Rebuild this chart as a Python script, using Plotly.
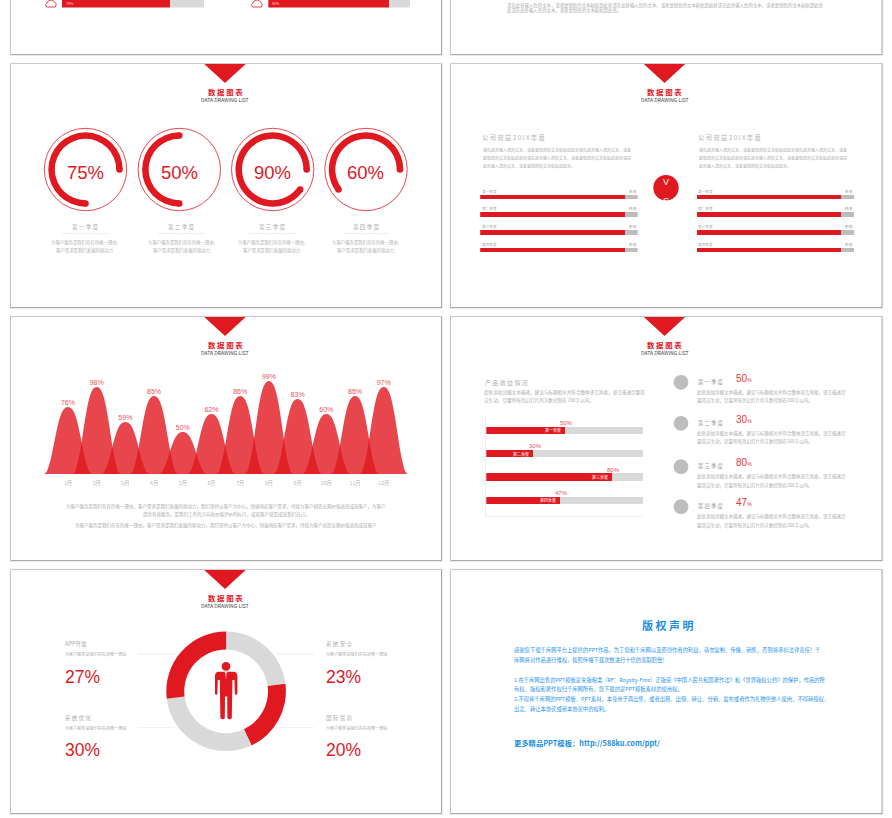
import plotly.graph_objects as go
import math

RED = "#e0181f"
GREY = "#d9d9d9"
MID = "#bdbdbd"
TXT = "#aaaaaa"
FONT = "Noto Sans CJK SC"
NUM = "Liberation Sans"

# ---------- data ----------
top_values = [76, 85]
top_labels = ["76%", "80%"]
gauge_values = [75, 50, 90, 60]
gauge_labels = ["75%", "50%", "90%", "60%"]
gauge_names = ["第 一 季 度", "第 二 季 度", "第 三 季 度", "第 四 季 度"]
vs_categories = ["第一季度", "第二季度", "第三季度", "第四季度"]
vs_left = [92, 92, 92, 92]
vs_right = [92, 92, 92, 92]
months = ["1月", "2月", "3月", "4月", "5月", "6月", "7月", "8月", "9月", "10月", "11月", "12月"]
month_labels = [76, 98, 59, 85, 50, 62, 86, 99, 83, 60, 85, 97]
peak_heights = [67, 87, 52, 78, 42, 60, 78, 93, 75, 60, 78, 87]
bell_offsets = [-1, -.9, -.8, -.7, -.6, -.5, -.4, -.3, -.2, -.1, 0, .1, .2, .3, .4, .5, .6, .7, .8, .9, 1]
bell_profile = [0, .03, .12, .25, .42, .6, .76, .88, .955, .99, 1, .99, .955, .88, .76, .6, .42, .25, .12, .03, 0]
income_cats = ["第一季度", "第二季度", "第三季度", "第四季度"]
income_values = [50, 30, 80, 47]
donut_names = ["系统安全", "国际贸易", "系统优化", "APP开发"]
donut_values = [23, 20, 30, 27]

L1 = "为客户服务是我们存在的唯一理由,"
L2 = "客户需求是我们发展的原动力"
LOREM1 = "请在此处输入您的文本，或者复制您的文本粘贴到此处请在此处输入您的文本，或者"
LOREM2 = "复制您的文本粘贴到此处请在此处输入您的文本，或者复制您的文本粘贴到此处请在"
LOREM3 = "此处输入您的文本，或者复制您的文本粘贴到此处。"
DESC1 = "此处添加详细文本描述，建议与标题相关并符合整体语言风格，语言描述尽量简"
DESC2 = "洁生动，尽量将每页幻灯片的字数控制在 200字以内。"
DESC3 = "此处添加详细文本描述，建议与标题相关并符合整体语言风格，语言描述尽"
DESC4 = "量简洁生动，尽量将每页幻灯片的字数控制在200字以内。"
MT1 = "为客户服务是我们存在的唯一理由，客户需求是我们发展的原动力，我们坚持以客户为中心，快速响应客户需求，持续为客户创造长期价值进而成就客户，为客户"
MT2 = "提供有效服务，是我们工作的方向和价值评价的标尺，成就客户就是成就我们自己。"
MT3 = "为客户服务是我们存在的唯一理由，客户需求是我们发展的原动力，我们坚持以客户为中心，快速响应客户需求，持续为客户创造长期价值进而成就客户"
TOP1 = "请在此处输入您的文本，或者复制您的文本粘贴到此处请在此处输入您的文本，或者复制您的文本粘贴到此处请在此处输入您的文本，或者复制您的文本粘贴到此处"
TOP2 = "此请在此处输入您的文本，或者复制您的文本粘贴到此处。"
CR = ["感谢您下载千库网平台上提供的PPT作品，为了您和千库网以及原创作者的利益，请勿复制、传播、销售，否则将承担法律责任！千",
      "库网将对作品进行维权，按照传播下载次数进行十倍的索取赔偿！",
      "1.在千库网出售的PPT模板是免版税类（RF：Royalty-Free）正版受《中国人民共和国著作法》和《世界版权公约》的保护，作品的所",
      "有权、版权和著作权归千库网所有，您下载的是PPT模板素材的使用权。",
      "2.不得将千库网的PPT模板、PPT素材，本身用于再出售，或者出租、出借、转让、分销、发布或者作为礼物供他人使用，不得转授权、",
      "出卖、转让本协议或者本协议中的权利。"]

# ---------- helpers ----------
fig = go.Figure()
shapes, notes = [], []

def T(x, y, s, size, color=TXT, anchor="center", bold=False, family=FONT):
    notes.append(dict(x=x, y=y, xref="x", yref="y", text=f"<b>{s}</b>" if bold else s, showarrow=False,
                      xanchor=anchor, yanchor="middle", align=anchor, borderpad=0,
                      font=dict(size=size, color=color, family=family)))

def rect(x0, y0, x1, y1, color, layer="below"):
    shapes.append(dict(type="rect", xref="x", yref="y", x0=x0, y0=y0, x1=x1, y1=y1,
                       fillcolor=color, line_width=0, layer=layer))

def circle(cx, cy, r, fill=None, line=None, lw=1, layer="above"):
    shapes.append(dict(type="circle", xref="x", yref="y", x0=cx - r, x1=cx + r, y0=cy - r, y1=cy + r,
                       fillcolor=fill or "rgba(0,0,0,0)", line=dict(color=line or "rgba(0,0,0,0)", width=lw if line else 0), layer=layer))

def path(d, fill=None, line=None, lw=1, layer="above"):
    shapes.append(dict(type="path", xref="x", yref="y", path=d, fillcolor=fill or "rgba(0,0,0,0)",
                       line=dict(color=line or "rgba(0,0,0,0)", width=lw if line else 0), layer=layer))

def hline(x0, x1, y, color="#e8e8e8"):
    shapes.append(dict(type="line", xref="x", yref="y", x0=x0, x1=x1, y0=y, y1=y, line=dict(color=color, width=0.7), layer="below"))

W, H = 892, 818
def dx(a, b): return [a / W, b / W]
def dy(top, bottom): return [1 - bottom / H, 1 - top / H]

# ---------- cards ----------
for (x0, x1) in [(11, 441), (451, 881.5)]:
    for (y0, y1) in [(-20, 54), (64, 307), (317, 560), (570, 813)]:
        rect(x0 - 1.2, y0 - 1.2, x1 + 1.8, y1 + 2, "#ececec")
        rect(x0 - .6, y0 - .6, x1 + 1, y1 + 1, "#a9a9a9")
        rect(x0, y0, x1, y1, "#ffffff")

# headers
for cx in (225, 664.5):
    for top in (64, 317, 570):
        if not (cx > 400 and top == 570):
            path(f"M{cx-20.7} {top} L{cx+20.7} {top} L{cx} {top+19} Z", fill=RED)
            T(cx, top + 27, "数 据 图 表", 7.4, RED, bold=True)
            T(cx, top + 35, "DATA DRAWING LIST", 5.1, "#444444")

# base overlay axis
fig.add_trace(go.Scatter(x=[], y=[], xaxis="x", yaxis="y", showlegend=False))
axes = dict(xaxis=dict(range=[0, W], domain=[0, 1], visible=False, fixedrange=True),
            yaxis=dict(range=[H, 0], domain=[0, 1], visible=False, fixedrange=True))

def add_axes(n, xdom, ydom, xr, yr, **kw):
    axes[f"xaxis{n}"] = dict(domain=xdom, range=xr, anchor=f"y{n}", visible=False, showgrid=False, zeroline=False)
    axes[f"yaxis{n}"] = dict(domain=ydom, range=yr, anchor=f"x{n}", visible=False, showgrid=False, zeroline=False)

# ---------- slide 1 remains ----------
for i, (v, lab, x0, icon) in enumerate(zip(top_values, top_labels, (62, 268.3), (45, 251))):
    n = 2 + i
    add_axes(n, dx(x0, x0 + 142), dy(0, 7.5), [0, 100], [-.5, .5])
    fig.add_trace(go.Bar(y=[0], x=[v], orientation="h", width=1, marker=dict(color=RED, line_width=0), xaxis=f"x{n}", yaxis=f"y{n}", showlegend=False))
    fig.add_trace(go.Bar(y=[0], x=[100 - v], orientation="h", width=1, marker=dict(color=GREY, line_width=0), xaxis=f"x{n}", yaxis=f"y{n}", showlegend=False))
    T(x0 + 3, 3, lab, 3.6, "#ffd0d0", "left")
    c = icon
    path(f"M{c+1.5} 7 Q{c-.8} 4.5 {c+2} 3 Q{c+3} 0 {c+6} 0 Q{c+8.5} 0 {c+9.5} 2 Q{c+12.5} 3.5 {c+10.5} 7 Z", fill="#ffffff", line=RED, lw=.8)
T(505.5, 5, TOP1, 4.4, "#aaaaaa", "left")
T(505.5, 10.3, TOP2, 4.4, "#aaaaaa", "left")

# ---------- gauges ----------
g_cx = [85.5, 179.3, 272.7, 366]
g_cy = 169.5
g_start = [90, 0, 90, 90]
g_lab_x = [85, 179, 272, 365.7]
g_txt_x = [85.5, 181.7, 272.7, 366]
g_line = [(62, 109), (158, 206), (249, 296), (343, 390)]
g_desc = [84, 181, 271, 365]
cap_x, cap_y = [], []
for i, v in enumerate(gauge_values):
    cx = g_cx[i]
    fig.add_trace(go.Pie(values=[v, 100 - v], sort=False, direction="clockwise", rotation=(g_start[i] - 3.6 * v) % 360, hole=.825,
                         domain=dict(x=dx(cx - 37.2, cx + 37.2), y=dy(g_cy - 37.2, g_cy + 37.2)),
                         marker=dict(colors=[RED, "rgba(0,0,0,0)"], line_width=0), textinfo="none", showlegend=False, hoverinfo="skip"))
    circle(cx, g_cy, 41.2, line="#e5323a", lw=.9, layer="below")
    for a in (g_start[i], g_start[i] - 3.6 * v):
        cap_x.append(cx + 34 * math.sin(math.radians(a)))
        cap_y.append(g_cy - 34 * math.cos(math.radians(a)))
    T(g_lab_x[i], 172, gauge_labels[i], 18.5, RED, family=NUM)
    T(g_txt_x[i], 227, gauge_names[i], 5.6, "#b0b0b0")
    hline(g_line[i][0], g_line[i][1], 233.5)
    T(g_desc[i], 242, L1, 4.4, "#b0b0b0")
    T(g_desc[i], 250, L2, 4.4, "#b0b0b0")
fig.add_trace(go.Scatter(x=cap_x, y=cap_y, mode="markers", marker=dict(color=RED, size=6.5, line_width=0), xaxis="x", yaxis="y", showlegend=False, hoverinfo="skip"))

# ---------- VS slide ----------
for n, vals, x0, tx in [(4, vs_left, 480.2, 481), (5, vs_right, 696.5, 697)]:
    add_axes(n, dx(x0, x0 + 157.5), dy(188.2, 258.8), [0, 100], [3.5, -.5])
    axes[f"yaxis{n}"]["type"] = "category"
    fig.add_trace(go.Bar(y=vs_categories, x=vals, orientation="h", width=.25, marker=dict(color=RED, line_width=0), xaxis=f"x{n}", yaxis=f"y{n}", showlegend=False))
    fig.add_trace(go.Bar(y=vs_categories, x=[100 - v for v in vals], orientation="h", width=.25, marker=dict(color=MID, line_width=0), xaxis=f"x{n}", yaxis=f"y{n}", showlegend=False))
    for name, y in zip(vs_categories, (191.3, 208, 226, 244)):
        T(tx, y, name, 3.7, "#aaaaaa", "left")
        T(tx + 152, y, "数值", 3.7, "#aaaaaa", "center")
    T(tx, 137, "公 司 效 益 2 0 I X 年 度", 6.3, "#b5b5b5", "left")
    T(tx + .5, 149.5, LOREM1, 4, "#aaaaaa", "left")
    T(tx + .5, 157.5, LOREM2, 4, "#aaaaaa", "left")
    T(tx + .5, 165.5, LOREM3, 4, "#aaaaaa", "left")
circle(666, 187.8, 12.7, fill=RED)
T(666, 181.5, "V", 9, "#ffffff", family=NUM)
T(666, 201, "S", 9, "#ffffff", family=NUM)

# ---------- mountains ----------
add_axes(6, dx(44.7, 407), dy(374, 474), [-.81, 11.81], [0, 100])
axes["xaxis6"].update(visible=True, tickmode="array", tickvals=list(range(12)), ticktext=months, showline=False,
                      ticks="outside", ticklen=4, tickcolor="rgba(0,0,0,0)", tickfont=dict(size=5.2, color="#b5b5b5", family=FONT))
for i, h in enumerate(peak_heights):
    xs = [i + .835 * o for o in bell_offsets]
    ys = [h * p for p in bell_profile]
    fig.add_trace(go.Scatter(x=xs, y=ys, mode="lines", line=dict(width=0, shape="spline"), fill="tozeroy",
                             fillcolor="rgba(224,24,31,0.8)", xaxis="x6", yaxis="y6", showlegend=False, hoverinfo="skip"))
fig.add_trace(go.Scatter(x=list(range(12)), y=peak_heights, mode="text", text=[f"{v}%" for v in month_labels], textposition="top center",
                         textfont=dict(size=7, color="#e9545b", family=NUM), cliponaxis=False, xaxis="x6", yaxis="y6", showlegend=False, hoverinfo="skip"))
T(226, 506.7, MT1, 4.5, "#aaaaaa")
T(226, 514.3, MT2, 4.5, "#aaaaaa")
T(226, 525, MT3, 4.5, "#aaaaaa")

# ---------- income bars ----------
add_axes(7, dx(486.3, 643), dy(416, 515.5), [0, 100], [3.65, -.62])
axes["xaxis7"].update(visible=True, showticklabels=False, ticks="", showline=True, linecolor="#ececec", linewidth=.7)
axes["yaxis7"].update(visible=True, showticklabels=False, ticks="", showline=True, linecolor="#ececec", linewidth=.7, type="category")
fig.add_trace(go.Bar(y=income_cats, x=income_values, orientation="h", width=.31, marker=dict(color=RED, line_width=0), xaxis="x7", yaxis="y7", showlegend=False, hoverinfo="skip"))
fig.add_trace(go.Bar(y=income_cats, x=[100 - v for v in income_values], orientation="h", width=.31, marker=dict(color=GREY, line_width=0), xaxis="x7", yaxis="y7", showlegend=False, hoverinfo="skip"))
for c, v in zip(income_cats, income_values):
    notes.append(dict(x=v, y=c, xref="x7", yref="y7", text=f"{v}%", showarrow=False, yshift=7.5, xshift=2,
                      font=dict(size=6, color="#e9545b", family=NUM)))
    notes.append(dict(x=v, y=c, xref="x7", yref="y7", text=c, showarrow=False, xanchor="right", xshift=-3, borderpad=0,
                      font=dict(size=4, color="#ffffff", family=FONT)))
T(483.5, 382, "产 品 收 益 情 况", 6, "#b0b0b0", "left")
T(483.3, 392.2, DESC1, 4.6, "#aaaaaa", "left")
T(483.3, 400.7, DESC2, 4.6, "#aaaaaa", "left")
q_y = [382.3, 423.3, 466.7, 506.7]
q_names = ["第 一 季 度", "第 二 季 度", "第 三 季 度", "第 四 季 度"]
for i, (y, v) in enumerate(zip(q_y, income_values)):
    circle(681, y, 7.4, fill=MID)
    T(697, y - .3, q_names[i], 5.3, "#999999", "left")
    T(735, y - 4, f"{v}<span style='font-size:5px'>%</span>", 10, "#e8343b", "left", family=NUM)
    T(696, y + 10, DESC3, 4.5, "#aaaaaa", "left")
    T(696, y + 18.6, DESC4, 4.5, "#aaaaaa", "left")

# ---------- donut ----------
fig.add_trace(go.Pie(values=donut_values, labels=donut_names, sort=False, direction="clockwise", rotation=0, hole=.7,
                     domain=dict(x=dx(166.3, 285.9), y=dy(631.5, 751.1)),
                     marker=dict(colors=[GREY, RED, GREY, RED], line_width=0), textinfo="none", showlegend=False, hoverinfo="skip"))
circle(226, 666.3, 4.4, fill=RED)
path("M218 671.8 L234 671.8 Q237.4 672.5 237.4 676 L237.4 694 Q236 695.5 234.9 694 L234.4 680 L232.4 680 L231.8 718 Q229.5 720.5 227.4 718 L227.2 696.5 L225 696.5 L224.8 718 Q222.5 720.5 220.4 718 L219.8 680 L217.8 680 L217.4 694 Q216 695.5 215 694 L215 676 Q215 672.5 218 671.8 Z", fill=RED)
path("M224.7 671.8 L227.3 671.8 L226.5 678 L226 679 L225.5 678 Z", fill="#ffffff")
path("M225.5 673 L226.5 673 L226.7 677.5 L226 679 L225.3 677.5 Z", fill=RED)
d_left = [("APP开发", 644.3, 654.3, "27%", 676.7), ("系统优化", 717.7, 727.7, "30%", 749.7)]
d_right = [("系统安全", 644.3, 654.3, "23%", 676.7), ("国际贸易", 717.7, 727.7, "20%", 749.7)]
for items, x, lx in [(d_left, 64, (138, 175)), (d_right, 325, (276.7, 314))]:
    for nm, y1, y2, val, y3 in items:
        T(x, y1, " ".join(nm) if "APP" not in nm else "APP开发", 5.6, "#b0b0b0", "left")
        T(x, y2, "为客户服务是我们存在的唯一理由", 4.1, "#aaaaaa", "left")
        hline(lx[0], lx[1], y2)
        T(x - .5, y3, val, 17.5, RED, "left", family=NUM)

# ---------- copyright ----------
BLUE = "#2a96ea"
T(667.7, 625, "版 权 声 明", 11, "#1b8ee6", bold=True)
for s, y in zip(CR, (650.3, 660, 679.7, 689.3, 699, 709)):
    T(512.7, y, s, 5.3, BLUE, "left")
T(512.7, 742.7, "更多精品PPT模板：http://588ku.com/ppt/", 7.3, "#1b8ee6", "left", bold=True)

fig.update_layout(width=W, height=H, margin=dict(l=0, r=0, t=0, b=0), paper_bgcolor="#ffffff", plot_bgcolor="rgba(0,0,0,0)",
                  barmode="stack", showlegend=False, shapes=shapes, annotations=notes, **axes)
fig.write_html("out.html", config=dict(displayModeBar=False), post_script="document.body.style.margin='0';")
